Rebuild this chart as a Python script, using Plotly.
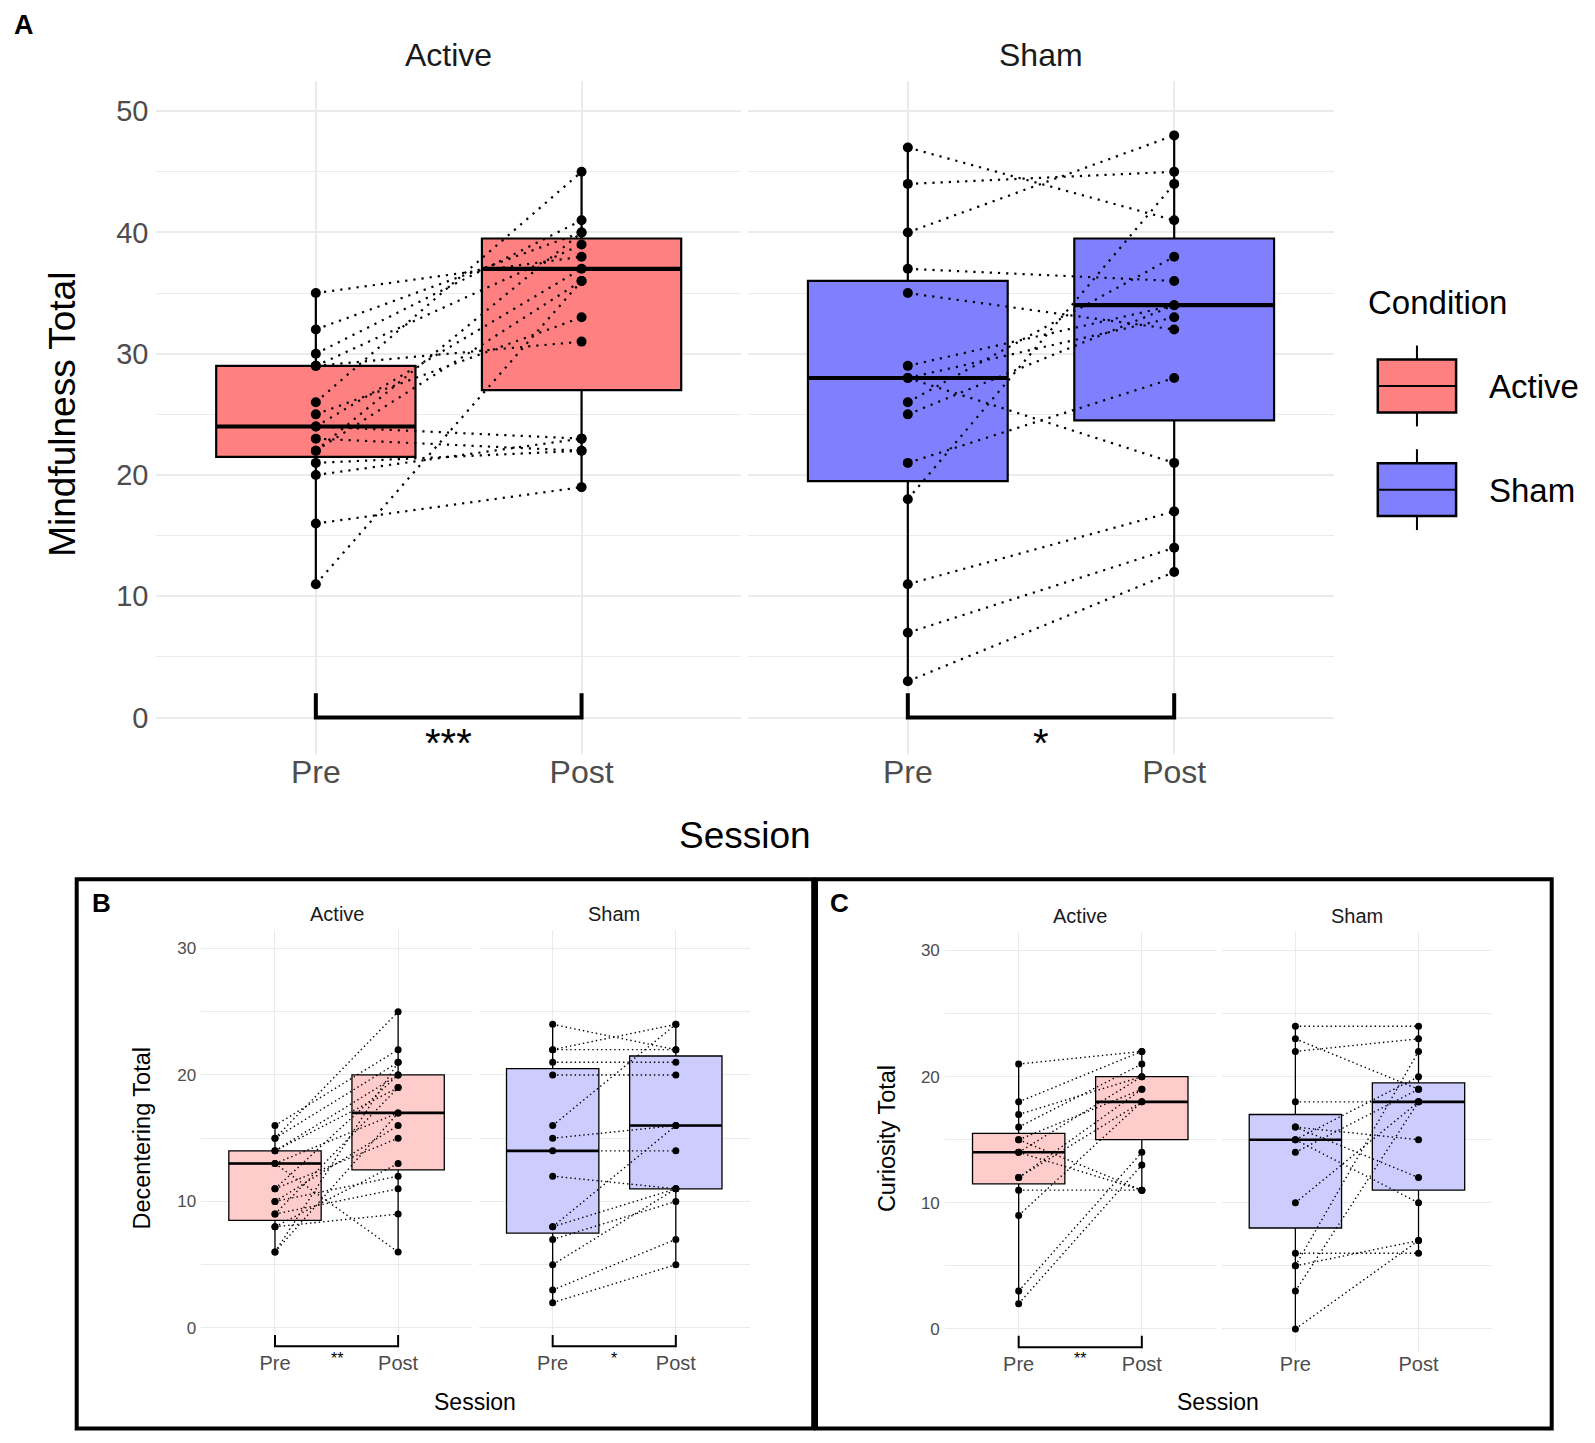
import plotly.graph_objects as go

W, H = 1595, 1443

sessions = ["Pre", "Post"]

# ---- Panel A: Mindfulness Total ----
a_active_pre = [35, 32, 30, 29, 29, 26, 25, 24, 24, 23, 22, 22, 21, 20, 16, 11]
a_active_post = [38, 40, 41, 39, 31, 45, 33, 37, 23, 22, 36, 40, 22, 23, 19, 36]
a_sham_pre = [47, 44, 40, 37, 35, 29, 28, 28, 26, 25, 21, 18, 11, 7, 3]
a_sham_post = [41, 45, 48, 36, 32, 34, 21, 33, 38, 34, 28, 44, 17, 14, 12]
# box stats per session [Pre, Post]
a_active_low, a_active_q1, a_active_med, a_active_q3, a_active_high = [11, 19], [21.5, 27], [24, 37], [29, 39.5], [35, 45]
a_sham_low, a_sham_q1, a_sham_med, a_sham_q3, a_sham_high = [3, 12], [19.5, 24.5], [28, 34], [36, 39.5], [47, 48]

# ---- Panel B: Decentering Total ----
b_active_pre = [16, 15, 15, 14, 14, 13, 13, 11, 11, 10, 10, 9, 9, 8, 8, 6, 6]
b_active_post = [22, 25, 21, 20, 19, 6, 17, 15, 20, 16, 12, 11, 19, 9, 13, 17, 21]
b_sham_pre = [24, 22, 22, 21, 20, 16, 15, 14, 12, 8, 8, 7, 5, 3, 2]
b_sham_post = [22, 24, 22, 21, 20, 24, 16, 14, 11, 16, 11, 10, 11, 7, 5]
b_active_low, b_active_q1, b_active_med, b_active_q3, b_active_high = [6, 6], [8.5, 12.5], [13, 17], [14, 20], [16, 25]
b_sham_low, b_sham_q1, b_sham_med, b_sham_q3, b_sham_high = [2, 5], [7.5, 11], [14, 16], [20.5, 21.5], [24, 24]

# ---- Panel C: Curiosity Total ----
c_active_pre = [21, 18, 17, 16, 15, 15, 14, 14, 12, 12, 11, 9, 3, 2]
c_active_post = [22, 22, 20, 21, 19, 11, 20, 11, 18, 19, 11, 18, 14, 13]
c_sham_pre = [24, 23, 22, 18, 16, 16, 15, 15, 14, 10, 6, 5, 5, 3, 0]
c_sham_post = [24, 19, 23, 18, 15, 12, 20, 10, 19, 18, 6, 7, 22, 18, 7]
c_active_low, c_active_q1, c_active_med, c_active_q3, c_active_high = [2, 11], [11.5, 15], [14, 18], [15.5, 20], [21, 22]
c_sham_low, c_sham_q1, c_sham_med, c_sham_q3, c_sham_high = [0, 6], [8, 11], [15, 18], [17, 19.5], [24, 24]

RED_A, BLUE_A = "#FF8080", "#8080FF"
RED_L, BLUE_L = "#FFCCCC", "#CCCCFF"
GRID = "#EBEBEB"
TICK = "#4D4D4D"
FONT = "Liberation Sans, Arial, sans-serif"


def fx(p):
    return p / W


def fy(p):
    return 1 - p / H


fig = go.Figure()

# facet: (axis index, x px domain, y px domain, y range, pre, post, box stats, fill, style)
facets = [
    (1, (148.4, 733), (72.8, 746), (-3, 52.5), a_active_pre, a_active_post,
     (a_active_low, a_active_q1, a_active_med, a_active_q3, a_active_high), RED_A, "big"),
    (2, (740, 1326), (72.8, 746), (-3, 52.5), a_sham_pre, a_sham_post,
     (a_sham_low, a_sham_q1, a_sham_med, a_sham_q3, a_sham_high), BLUE_A, "big"),
    (3, (193.1, 464), (921.5, 1342.7), (-1.8, 31.5), b_active_pre, b_active_post,
     (b_active_low, b_active_q1, b_active_med, b_active_q3, b_active_high), RED_L, "small"),
    (4, (470.8, 741.7), (921.5, 1342.7), (-1.8, 31.5), b_sham_pre, b_sham_post,
     (b_sham_low, b_sham_q1, b_sham_med, b_sham_q3, b_sham_high), BLUE_L, "small"),
    (5, (936.8, 1207.7), (923.6, 1343.6), (-1.8, 31.5), c_active_pre, c_active_post,
     (c_active_low, c_active_q1, c_active_med, c_active_q3, c_active_high), RED_L, "small"),
    (6, (1213.5, 1484.4), (923.6, 1343.6), (-1.8, 31.5), c_sham_pre, c_sham_post,
     (c_sham_low, c_sham_q1, c_sham_med, c_sham_q3, c_sham_high), BLUE_L, "small"),
]

BOX_W = 0.75
pos = [0, 1]

for i, xd, yd, yr, pre, post, stats, fill, style in facets:
    big = style == "big"
    xa = "x" if i == 1 else f"x{i}"
    ya = "y" if i == 1 else f"y{i}"
    low, q1, med, q3, high = stats

    fig.add_trace(go.Box(
        x=pos, q1=q1, median=med, q3=q3, lowerfence=low, upperfence=high,
        orientation="v", width=BOX_W, whiskerwidth=0, fillcolor=fill,
        line=dict(color="black", width=2.2 if big else 1.3),
        xaxis=xa, yaxis=ya, showlegend=False, hoverinfo="skip",
    ))

    # paired subject lines
    lx, ly = [], []
    for a, b in zip(pre, post):
        lx += [0, 1, None]
        ly += [a, b, None]
    fig.add_trace(go.Scatter(
        x=lx, y=ly, mode="lines",
        line=dict(color="black", width=2.2 if big else 1.4,
                  dash="2.2px,6px" if big else "1.4px,3px"),
        xaxis=xa, yaxis=ya, showlegend=False, hoverinfo="skip",
    ))

    # thicker median bars
    mx, my = [], []
    for p, m in zip(pos, med):
        mx += [p - BOX_W / 2, p + BOX_W / 2, None]
        my += [m, m, None]
    fig.add_trace(go.Scatter(
        x=mx, y=my, mode="lines", line=dict(color="black", width=4.2 if big else 2.6),
        xaxis=xa, yaxis=ya, showlegend=False, hoverinfo="skip",
    ))

    fig.add_trace(go.Scatter(
        x=[0] * len(pre) + [1] * len(post), y=pre + post, mode="markers",
        marker=dict(color="black", size=10 if big else 7),
        xaxis=xa, yaxis=ya, showlegend=False, hoverinfo="skip",
    ))

    yticks = list(range(0, 51, 10)) if big else list(range(0, 31, 10))
    fig.update_layout(**{
        ("xaxis" if i == 1 else f"xaxis{i}"): dict(
            domain=[fx(xd[0]), fx(xd[1])], anchor=ya, range=[-0.6, 1.6],
            tickvals=pos, ticktext=sessions, showgrid=True, gridcolor=GRID,
            gridwidth=2.2 if big else 1.4, zeroline=False, showline=False, ticks="",
            ticklabelstandoff=-4 if big else -2,
            tickfont=dict(size=32 if big else 20, color=TICK, family=FONT),
        ),
        ("yaxis" if i == 1 else f"yaxis{i}"): dict(
            domain=[fy(yd[1]), fy(yd[0])], anchor=xa, range=list(yr),
            tickvals=yticks, showgrid=True, gridcolor=GRID,
            gridwidth=2.2 if big else 1.4, zeroline=False, showline=False, ticks="",
            showticklabels=i in (1, 3, 5), ticklabelstandoff=7 if big else 4,
            tickfont=dict(size=29 if big else 17, color=TICK, family=FONT),
            minor=dict(dtick=5, tick0=0, showgrid=True, gridcolor=GRID,
                       gridwidth=1.3 if big else 0.8),
        ),
    })

annotations = []

# significance brackets and stars: (axis index, base y, tip y, line width, stars, star px y, font size)
brackets = [
    (1, 0, 2, 4, "***", 735, 40),
    (2, 0, 2, 4, "*", 735, 40),
    (3, -1.45, -0.55, 2, "**", 1350, 16),
    (4, -1.45, -0.55, 2, "*", 1350, 16),
    (5, -1.45, -0.55, 2, "**", 1350, 16),
]
for i, base, tip, lw, stars, sy, fs in brackets:
    xa = "x" if i == 1 else f"x{i}"
    ya = "y" if i == 1 else f"y{i}"
    fig.add_trace(go.Scatter(
        x=[0, 0, 1, 1], y=[tip, base, base, tip], mode="lines",
        line=dict(color="black", width=lw), cliponaxis=False,
        xaxis=xa, yaxis=ya, showlegend=False, hoverinfo="skip",
    ))
    annotations.append(dict(x=0.5, y=fy(sy), xref=xa, yref="paper", text=stars,
                            showarrow=False, yanchor="middle",
                            font=dict(size=fs, color="black", family=FONT)))


def label(text, x, y, size, color="black", bold=False, angle=0, xanchor="center", yanchor="middle"):
    annotations.append(dict(
        x=fx(x), y=fy(y), xref="paper", yref="paper", showarrow=False,
        text=f"<b>{text}</b>" if bold else text, textangle=angle,
        xanchor=xanchor, yanchor=yanchor,
        font=dict(size=size, color=color, family=FONT),
    ))


# panel A texts
label("A", 4, 0, 27, bold=True, xanchor="left", yanchor="top")
label("Active", 440, 47.3, 32, "#1A1A1A")
label("Sham", 1033, 47.3, 32, "#1A1A1A")
label("Mindfulness Total", 54.4, 406.4, 37, angle=-90)
label("Session", 737, 827.6, 37)

# legend
label("Condition", 1357.6, 294.5, 33, xanchor="left")
label("Active", 1478.6, 378.9, 33, xanchor="left")
label("Sham", 1478.6, 482.7, 33, xanchor="left")

# panels B and C texts
label("B", 93.1, 894.7, 26, bold=True)
label("C", 831.6, 894.7, 26, bold=True)
label("Active", 328.5, 905.9, 20, "#1A1A1A")
label("Sham", 606.3, 905.9, 20, "#1A1A1A")
label("Active", 1072.3, 907.9, 20, "#1A1A1A")
label("Sham", 1349, 907.9, 20, "#1A1A1A")
label("Decentering Total", 133.8, 1130.7, 23.5, angle=-90)
label("Curiosity Total", 878.4, 1130.7, 23.5, angle=-90)
label("Session", 467.4, 1394.2, 23)
label("Session", 1210.1, 1394.2, 23)

shapes = []
# legend keys
kx0, kx1 = 1369.8, 1448.1
kmid = (kx0 + kx1) / 2
for top, bottom, col in [(351.5, 404.4, RED_A), (455.2, 508.1, BLUE_A)]:
    mid = (top + bottom) / 2
    shapes.append(dict(type="line", xref="paper", yref="paper", x0=fx(kmid), x1=fx(kmid),
                       y0=fy(top - 14), y1=fy(bottom + 14), line=dict(color="black", width=2)))
    shapes.append(dict(type="rect", xref="paper", yref="paper", x0=fx(kx0), x1=fx(kx1),
                       y0=fy(bottom), y1=fy(top), fillcolor=col, line=dict(color="black", width=2.5)))
    shapes.append(dict(type="line", xref="paper", yref="paper", x0=fx(kx0), x1=fx(kx1),
                       y0=fy(mid), y1=fy(mid), line=dict(color="black", width=2)))

# boxes around panels B and C
for x0, x1 in [(68.7, 805.2), (808, 1543.7)]:
    shapes.append(dict(type="rect", xref="paper", yref="paper", x0=fx(x0), x1=fx(x1),
                       y0=fy(1420.6), y1=fy(871.3), line=dict(color="black", width=4)))

fig.update_layout(
    width=W, height=H, margin=dict(l=0, r=0, t=0, b=0),
    paper_bgcolor="white", plot_bgcolor="white",
    font=dict(family=FONT),
    annotations=annotations, shapes=shapes, showlegend=False,
)

fig.write_html("out.html")
